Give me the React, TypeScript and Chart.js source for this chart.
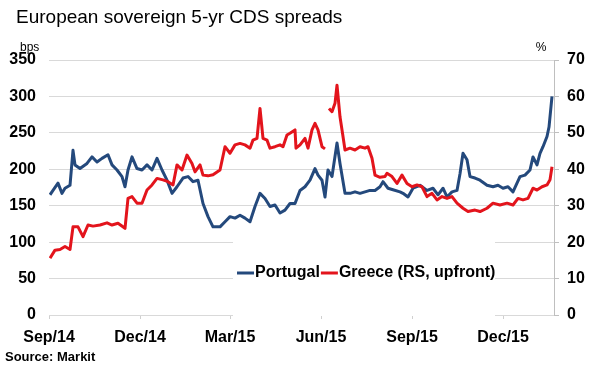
import React, { useEffect, useRef } from "react";
import { Chart, registerables } from "chart.js";

Chart.register(...registerables);

// x unit: days from the start of the chart (Sep 2014)
const tickDays = [0, 91, 181, 272, 363, 454];
const tickLabels = ["Sep/14", "Dec/14", "Mar/15", "Jun/15", "Sep/15", "Dec/15"];

const portugalDays = [
  1, 4, 9, 13, 16, 21, 24, 26, 31, 38,
  43, 48, 53, 59, 63, 68, 73, 76, 79, 83,
  88, 93, 98, 103, 108, 113, 118, 123, 128, 134,
  139, 144, 149, 154, 159, 164, 171, 176, 181, 186,
  191, 196, 201, 206, 211, 216, 221, 226, 231, 236,
  241, 246, 251, 256, 261, 266, 269, 273, 276, 279,
  283, 288, 291, 296, 301, 306, 311, 316, 321, 326,
  331, 334, 339, 344, 351, 354, 359, 364, 371, 378,
  384, 389, 394, 398, 403, 408, 411, 414, 418, 421,
  426, 431, 438, 444, 449, 454, 459, 464, 468, 471,
  476, 481, 484, 488, 491, 494, 498, 500, 503,
];
const portugalBps = [
  165, 171, 181, 167, 174, 178, 226, 206, 201, 208,
  217, 210, 215, 220, 206, 199, 190, 176, 199, 217,
  201, 199, 206, 199, 215, 199, 185, 167, 176, 188,
  190, 183, 185, 153, 135, 121, 121, 128, 135, 133,
  137, 133, 128, 149, 167, 160, 149, 151, 140, 144,
  153, 153, 171, 176, 185, 201, 192, 185, 162, 199,
  190, 236, 208, 167, 167, 169, 167, 169, 171, 171,
  176, 183, 174, 172, 169, 167, 162, 174, 178, 171,
  174, 165, 174, 162, 169, 171, 194, 222, 213, 190,
  188, 185, 178, 176, 178, 174, 176, 169, 181, 190,
  192, 199, 217, 206, 222, 231, 245, 258, 300,
];

const greeceDays = [
  1, 6, 11, 16, 21, 24, 29, 34, 39, 44,
  51, 58, 63, 69, 76, 79, 83, 88, 93, 98,
  103, 108, 114, 119, 124, 128, 133, 138, 143, 146,
  151, 154, 159, 164, 171, 176, 181, 186, 191, 196,
  201, 204, 208, 211, 214, 218, 221, 226, 231, 234,
  238, 241, 246, 247, 251, 256, 259, 263, 266, 269,
  273, 276, 278, 280, 283, 286, 288, 291, 294, 296,
  301, 306, 311, 316, 319, 323, 326, 331, 336, 338,
  343, 348, 353, 358, 363, 368, 373, 378, 383, 388,
  393, 398, 403, 408, 414, 419, 426, 431, 438, 444,
  451, 458, 464, 469, 474, 479, 484, 488, 493, 498,
  501, 503,
];
const greeceUpfront = [
  15.6, 17.8, 18.0, 18.8, 18.0, 24.2, 24.2, 21.5, 24.7, 24.4,
  24.7, 25.3, 24.7, 25.2, 23.8, 32.0, 32.5, 30.7, 30.7, 34.3,
  35.7, 37.5, 37.1, 36.6, 35.7, 41.2, 39.8, 43.9, 41.6, 39.3,
  41.2, 38.4, 38.2, 38.5, 39.8, 46.2, 44.4, 46.7, 47.1, 46.7,
  45.8, 48.0, 48.5, 56.7, 48.5, 48.0, 45.8, 46.2, 46.7, 46.2,
  49.4, 49.9, 50.8, 45.8, 46.7, 48.5, 45.8, 50.8, 52.6, 50.8,
  46.2, 45.6, null, 56.7, 55.8, 58.1, 63.1, 54.4, 49.0, 45.3,
  45.8, 45.3, 46.2, 45.8, 46.2, 43.0, 38.4, 37.8, 38.0, 38.9,
  38.0, 36.1, 38.4, 36.1, 35.2, 35.7, 35.2, 32.5, 33.4, 31.6,
  32.5, 32.0, 32.5, 30.7, 29.3, 28.4, 28.8, 28.4, 29.3, 30.7,
  30.2, 30.7, 30.2, 32.0, 31.6, 32.0, 34.8, 34.3, 35.2, 35.7,
  37.1, 40.7,
];

const TITLE = "European sovereign 5-yr CDS spreads";
const SOURCE = "Source: Markit";
const LEFT_UNIT = "bps";
const RIGHT_UNIT = "%";
const SERIES_NAMES = ["Portugal", "Greece (RS, upfront)"];

const BLUE = "#24497c";
const RED = "#e3141c";
const FONT = "'Liberation Sans', Arial, sans-serif";

const decorPlugin = {
  id: "decor",
  beforeDatasetsDraw(chart: any) {
    const ctx = chart.ctx;
    ctx.save();
    ctx.fillStyle = "#ffffff";
    ctx.fillRect(233, 230, 262, 86);
    ctx.restore();
  },
  afterDraw(chart: any) {
    const ctx = chart.ctx;
    ctx.save();
    ctx.fillStyle = "#000000";
    ctx.textBaseline = "middle";
    ctx.textAlign = "left";
    ctx.font = `19px ${FONT}`;
    ctx.fillText(TITLE, 16, 18);
    ctx.font = `12px ${FONT}`;
    ctx.fillText(LEFT_UNIT, 20, 48);
    ctx.textAlign = "center";
    ctx.fillText(RIGHT_UNIT, 541, 48);
    ctx.textAlign = "left";
    ctx.font = `bold 13px ${FONT}`;
    ctx.fillText(SOURCE, 5, 357);

    // legend
    ctx.font = `bold 16px ${FONT}`;
    const ly = 273;
    let x = 237;
    const colors = [BLUE, RED];
    SERIES_NAMES.forEach((name, i) => {
      ctx.strokeStyle = colors[i];
      ctx.lineWidth = 3;
      ctx.beginPath();
      ctx.moveTo(x, ly);
      ctx.lineTo(x + 17, ly);
      ctx.stroke();
      x += 18;
      ctx.fillStyle = "#000";
      ctx.fillText(name, x, ly);
      x += ctx.measureText(name).width + 1;
    });
    ctx.restore();
  },
};

export default function App() {
  const ref = useRef<HTMLCanvasElement>(null);

  useEffect(() => {
    if (!ref.current) return;
    Chart.defaults.font.family = FONT;
    const chart = new Chart(ref.current, {
      type: "line",
      data: {
        datasets: [
          {
            label: SERIES_NAMES[0],
            data: portugalDays.map((d, i) => ({ x: d, y: portugalBps[i] })),
            borderColor: BLUE,
            backgroundColor: BLUE,
            borderWidth: 3,
            pointRadius: 0,
            tension: 0,
            yAxisID: "y",
            order: 1,
            borderJoinStyle: "round",
          },
          {
            label: SERIES_NAMES[1],
            data: greeceDays.map((d, i) => ({ x: d, y: greeceUpfront[i] })),
            borderColor: RED,
            backgroundColor: RED,
            borderWidth: 3,
            pointRadius: 0,
            tension: 0,
            yAxisID: "y1",
            spanGaps: false,
            order: 0,
            borderJoinStyle: "round",
          },
        ],
      },
      options: {
        responsive: false,
        animation: false,
        devicePixelRatio: 1,
        layout: { padding: { top: 60, left: 0, right: 0, bottom: 0 } },
        plugins: {
          legend: { display: false },
          title: { display: false },
          tooltip: { enabled: false },
        },
        scales: {
          x: {
            type: "linear",
            min: 0,
            max: 505,
            afterBuildTicks: (scale: any) => {
              scale.ticks = tickDays.map((v) => ({ value: v }));
            },
            afterFit: (scale: any) => {
              scale.height = 67;
            },
            grid: {
              drawOnChartArea: false,
              tickLength: 4,
              color: "#d0d0d0",
            },
            border: { display: true, color: "#d9d9d9" },
            ticks: {
              autoSkip: false,
              maxRotation: 0,
              padding: 9,
              color: "#000",
              font: { size: 16, weight: "bold" },
              callback: (v: any) => {
                const idx = tickDays.indexOf(Number(v));
                return idx >= 0 ? tickLabels[idx] : "";
              },
            },
          },
          y: {
            position: "left",
            min: 0,
            max: 350,
            afterFit: (scale: any) => {
              scale.width = 49;
            },
            grid: { color: "#d9d9d9", drawTicks: false },
            border: { display: false },
            ticks: {
              stepSize: 50,
              padding: 13,
              color: "#000",
              font: { size: 16, weight: "bold" },
            },
          },
          y1: {
            position: "right",
            min: 0,
            max: 70,
            afterFit: (scale: any) => {
              scale.width = 36;
            },
            grid: { drawOnChartArea: false, tickLength: 5, color: "#bfbfbf" },
            border: { display: true, color: "#bfbfbf" },
            ticks: {
              stepSize: 10,
              padding: 8,
              color: "#000",
              font: { size: 16, weight: "bold" },
            },
          },
        },
      },
      plugins: [decorPlugin],
    } as any);
    return () => chart.destroy();
  }, []);

  return (
    <div
      style={{
        position: "absolute",
        left: 0,
        top: 0,
        width: 590,
        height: 382,
        background: "#fff",
      }}
    >
      <canvas ref={ref} width={590} height={382} />
    </div>
  );
}
